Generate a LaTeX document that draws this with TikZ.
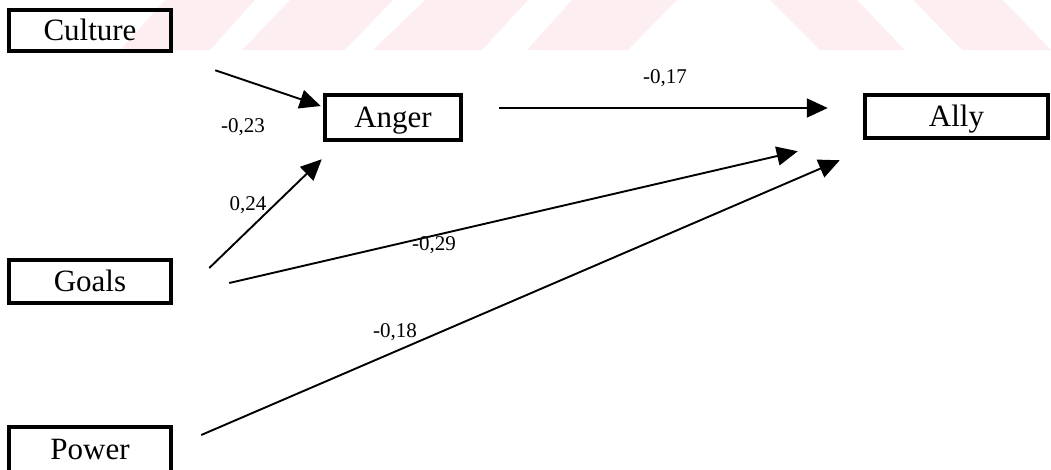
\documentclass[tikz,border=0pt]{standalone}
\usepackage{fontspec}
\setmainfont{Liberation Serif}
\usetikzlibrary{arrows.meta}
\definecolor{wmpink}{RGB}{253,238,241}
\begin{document}
\begin{tikzpicture}[x=1pt,y=-1pt,
  box/.style={draw, line width=4.5pt, minimum width=162pt, minimum height=43pt,
    inner sep=0pt, text height=20pt, text depth=0pt,
    font=\fontsize{31}{34}\selectfont},
  lab/.style={inner sep=0pt, anchor=base, font=\fontsize{21}{24}\selectfont},
  arr/.style={line width=1.9pt, -{Triangle[length=21pt,width=19pt]}}]
\useasboundingbox (0,0) rectangle (1051,469);
\clip (0,0) rectangle (1051,469);
% light striped band along the top
\fill[wmpink] (165,0) -- (255,0) -- (210,50) -- (120,50) -- cycle;
\fill[wmpink] (290,0) -- (393,0) -- (345,50) -- (242,50) -- cycle;
\fill[wmpink] (425,0) -- (528,0) -- (482,50) -- (373,50) -- cycle;
\fill[wmpink] (572,0) -- (677,0) -- (628,50) -- (527,50) -- cycle;
\fill[wmpink] (770,0) -- (857,0) -- (905,50) -- (820,50) -- cycle;
\fill[wmpink] (913,0) -- (1003,0) -- (1051,50) -- (962,50) -- cycle;
% variables
\node[box, minimum height=41pt] (culture) at (90,30.5) {Culture};
\node[box, minimum width=136pt, minimum height=45pt] (anger) at (393,117.5) {Anger};
\node[box, minimum width=183pt] (ally) at (956.5,116.5) {Ally};
\node[box] (goals) at (90,281.5) {Goals};
\node[box, minimum height=45pt] (power) at (90,449.5) {Power};
% paths
\draw[arr] ([xshift=42pt,yshift=-17pt]culture.south east) -- ([xshift=-2pt,yshift=11.5pt]anger.west);
\draw[arr] ([xshift=36pt,yshift=9.5pt]anger.east) -- ([xshift=-35pt,yshift=8.5pt]ally.west);
\draw[arr] ([xshift=36pt,yshift=13.5pt]goals.east) -- ([xshift=-1pt,yshift=-17pt]anger.south west);
\draw[arr] ([xshift=56pt,yshift=-1.5pt]goals.east) -- ([xshift=-65pt,yshift=-11pt]ally.south west);
\draw[arr] ([xshift=28pt,yshift=14.5pt]power.east) -- ([xshift=-23pt,yshift=-20pt]ally.south west);
% coefficients
\node[lab] (c1) at (243,132) {-0,23};
\node[lab] (c2) at (665,83) {-0,17};
\node[lab] (c3) at (248,210) {0,24};
\node[lab] (c4) at (434,250) {-0,29};
\node[lab] (c5) at (395,337) {-0,18};
\end{tikzpicture}
\end{document}
